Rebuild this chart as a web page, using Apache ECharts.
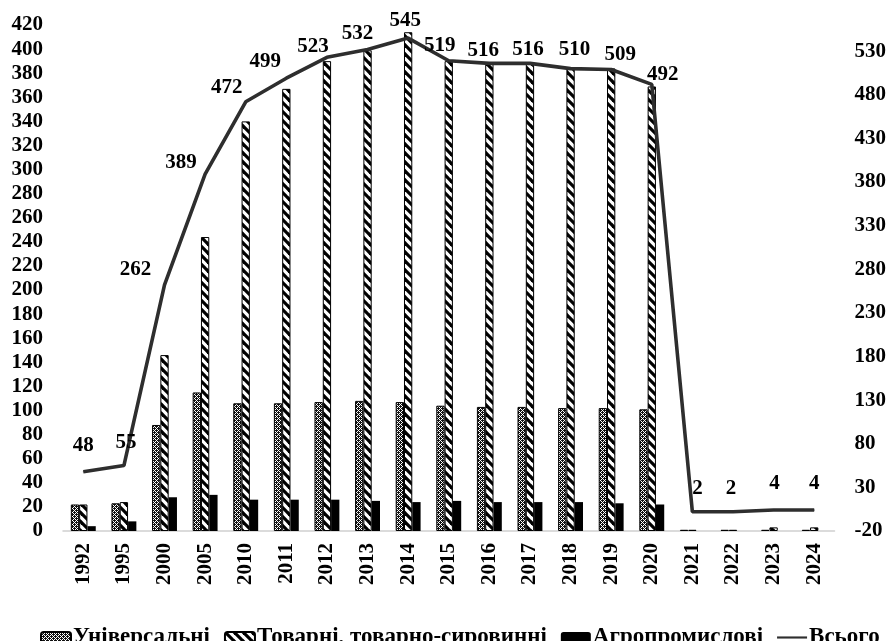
<!DOCTYPE html>
<html>
<head>
<meta charset="utf-8">
<script src="https://cdn.jsdelivr.net/npm/echarts@6/dist/echarts.min.js"></script>
<style>
html,body{margin:0;padding:0;background:#fff;}
#chart{width:889px;height:641px;}
</style>
</head>
<body>
<div id="chart"></div>
<script>
// ---- data ----
const years = ['1992','1995','2000','2005','2010','2011','2012','2013','2014','2015','2016','2017','2018','2019','2020','2021','2022','2023','2024'];
const universal = [22, 23, 88, 115, 106, 106, 107, 108, 107, 104, 103, 103, 102, 102, 101, 1, 1, 1, 1];
const commodity = [22, 24, 146, 244, 340, 367, 390, 399, 414, 390, 389, 389, 384, 384, 369, 1, 1, 3, 3];
const agro = [4, 8, 28, 30, 26, 26, 26, 25, 24, 25, 24, 24, 24, 23, 22, 0, 0, 0, 0];
const total = [48, 55, 262, 389, 472, 499, 523, 532, 545, 519, 516, 516, 510, 509, 492, 2, 2, 4, 4];
const seriesNames = ['Універсальні', 'Товарні, товарно-сировинні', 'Агропромислові', 'Всього'];
const leftTicks = {min: 0, max: 420, interval: 20};
const rightTicks = {min: -20, max: 560, interval: 50};

// ---- label placement (style only) ----
const labelShift = [[0,-26],[2,-23],[-29,-15],[-24,-12],[-19,-14],[-21,-17],[-14,-11],[-10,-16],[-3,-18],[-9,-15],[-6,-13],[-2,-14],[4,-19],[9,-15],[11,-10],[5,-23],[-2,-23],[1,-26],[0,-26]];

// ---- patterns ----
function checkerPattern(){
  const c = document.createElement('canvas');
  c.width = 4; c.height = 4;
  const g = c.getContext('2d');
  g.fillStyle = '#111';
  g.fillRect(0,0,4,4);
  g.fillStyle = '#fff';
  for (let x=0;x<4;x++) for (let y=0;y<4;y++){
    if ((x%2===1 && y%2===1) || (x%2===0 && y%2===0 && (x+y)%4===0)) g.fillRect(x,y,1,1);
  }
  return c;
}
function hatchPattern(){
  const s = 9;
  const c = document.createElement('canvas');
  c.width = s; c.height = s;
  const g = c.getContext('2d');
  g.fillStyle = '#fff';
  g.fillRect(0,0,s,s);
  g.strokeStyle = '#000';
  g.lineWidth = 3.2;
  for (let k=-1;k<=1;k++){
    g.beginPath();
    g.moveTo(-1, k*s-1);
    g.lineTo(s+1, k*s+s+1);
    g.stroke();
  }
  return c;
}

const FONT = 'Liberation Serif';
const chart = echarts.init(document.getElementById('chart'), null, {renderer:'canvas'});

const barCommon = {
  type: 'bar',
  yAxisIndex: 0,
  barWidth: 8.3,
  barGap: '0%',
};

chart.setOption({
  animation: false,
  backgroundColor: '#fff',
  grid: {left: 63, right: 52, top: 25, bottom: 110},
  legend: {
    top: 626,
    left: 40,
    width: 849,
    padding: 0,
    itemWidth: 30,
    itemHeight: 11,
    itemGap: 14,
    textStyle: {fontFamily: FONT, fontWeight: 'bold', fontSize: 23, color: '#000', padding: [0,0,0,-3]},
    data: [
      {name: seriesNames[0]},
      {name: seriesNames[1]},
      {name: seriesNames[2]},
      {name: seriesNames[3], icon: 'path://M0,4L28,4L28,6L0,6Z'}
    ]
  },
  xAxis: {
    type: 'category',
    data: years,
    axisLine: {show: true, lineStyle: {color: '#cfcfcf', width: 1.5}},
    axisTick: {show: false},
    axisLabel: {rotate: 90, margin: 12, fontFamily: FONT, fontWeight: 'bold', fontSize: 21, color: '#000'}
  },
  yAxis: [
    {
      type: 'value',
      min: leftTicks.min, max: leftTicks.max, interval: leftTicks.interval,
      axisLine: {show: false}, axisTick: {show: false}, splitLine: {show: false},
      axisLabel: {margin: 20, fontFamily: FONT, fontWeight: 'bold', fontSize: 21, color: '#000'}
    },
    {
      type: 'value',
      min: rightTicks.min, max: rightTicks.max, interval: rightTicks.interval,
      axisLine: {show: false}, axisTick: {show: false}, splitLine: {show: false},
      axisLabel: {margin: 20, showMaxLabel: false, fontFamily: FONT, fontWeight: 'bold', fontSize: 21, color: '#000'}
    }
  ],
  series: [
    Object.assign({}, barCommon, {
      name: seriesNames[0],
      data: universal,
      itemStyle: {color: {image: checkerPattern(), repeat: 'repeat'}, borderColor: '#000', borderWidth: 1}
    }),
    Object.assign({}, barCommon, {
      name: seriesNames[1],
      data: commodity,
      itemStyle: {color: {image: hatchPattern(), repeat: 'repeat'}, borderColor: '#000', borderWidth: 1}
    }),
    Object.assign({}, barCommon, {
      name: seriesNames[2],
      data: agro,
      itemStyle: {color: '#000', borderColor: '#000', borderWidth: 0}
    }),
    {
      name: seriesNames[3],
      type: 'line',
      yAxisIndex: 1,
      z: 5,
      symbol: 'circle',
      symbolSize: 1,
      showSymbol: true,
      lineStyle: {color: '#2e2e2e', width: 3.6},
      itemStyle: {color: '#2e2e2e'},
      data: total.map((v, i) => ({
        value: v,
        label: {offset: labelShift[i]}
      })),
      label: {
        show: true,
        position: 'inside',
        align: 'center',
        verticalAlign: 'middle',
        fontFamily: FONT, fontWeight: 'bold', fontSize: 21, color: '#000'
      }
    }
  ]
});
</script>
</body>
</html>
